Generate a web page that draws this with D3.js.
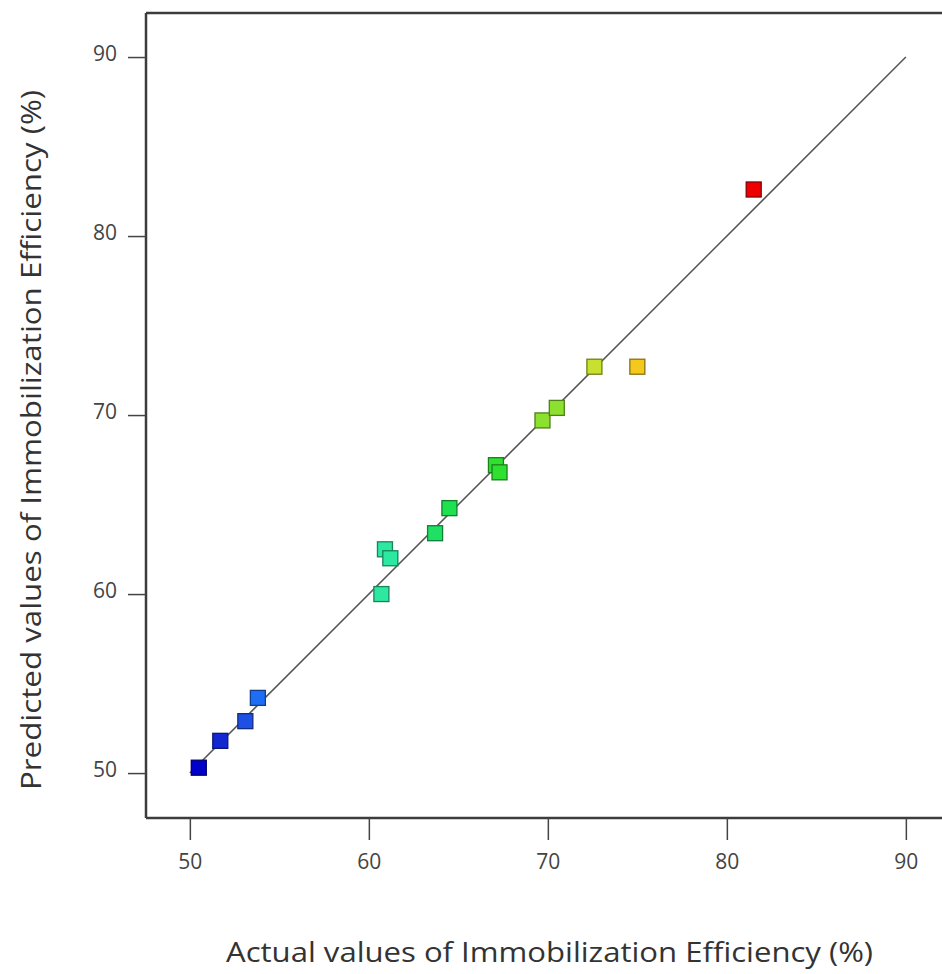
<!DOCTYPE html>
<html><head><meta charset="utf-8">
<script src="https://cdn.jsdelivr.net/npm/d3@7"></script>
<style>body{margin:0;background:#fff;}svg{display:block;}</style>
</head><body>
<svg id="c" width="942" height="974"></svg>
<script>
const actual    = [50.5, 51.7, 53.1, 53.8, 60.7, 60.9, 61.2, 63.7, 64.5, 67.1, 67.3, 69.7, 70.5, 72.6, 75.0, 81.5];
const predicted = [50.3, 51.8, 52.9, 54.2, 60.0, 62.5, 62.0, 63.4, 64.8, 67.2, 66.8, 69.7, 70.4, 72.7, 72.7, 82.6];
const pointColors = ["#0000c8","#1428d2","#1e50e6","#1e6ef5","#2de8a0","#2de8a0","#2de8a0","#1ee164","#1ee150","#30e030","#30e030","#8ce030","#8ce030","#c8e030","#f5c81e","#ee0000"];
const tickValues = [50, 60, 70, 80, 90];
const xTitle = "Actual values of Immobilization Efficiency (%)";
const yTitle = "Predicted values of Immobilization Efficiency (%)";

(function () {
const svg = d3.select("#c");
const mLeft = 146, mTop = 13, mBottom = 818;
const x = d3.scaleLinear().domain([47.55, 92.55]).range([mLeft, mLeft + 45 * 17.9]);
const y = d3.scaleLinear().domain([47.49, 92.46]).range([mBottom, mTop]);

// frame
const frame = svg.append("g").attr("stroke", "#3c3c3c").attr("stroke-width", 2.5).attr("fill", "none");
frame.append("line").attr("x1", mLeft).attr("x2", 960).attr("y1", mTop).attr("y2", mTop);
frame.append("line").attr("x1", mLeft).attr("x2", mLeft).attr("y1", mTop).attr("y2", mBottom);
frame.append("line").attr("x1", mLeft).attr("x2", 960).attr("y1", mBottom).attr("y2", mBottom);

// axes
const xAxis = svg.append("g").attr("transform", `translate(0,${mBottom})`)
  .call(d3.axisBottom(x).tickValues(tickValues).tickSize(22).tickPadding(14));
const yAxis = svg.append("g").attr("transform", `translate(${mLeft},0)`)
  .call(d3.axisLeft(y).tickValues(tickValues).tickSize(18).tickPadding(11));
[xAxis, yAxis].forEach(a => {
  a.select(".domain").remove();
  a.selectAll(".tick line").attr("stroke", "#444").attr("stroke-width", 1.5);
  a.selectAll(".tick text").attr("fill", "#444").attr("font-family", "'Open Sans', sans-serif").attr("font-size", 21);
});
yAxis.selectAll(".tick text").attr("dy", "0.15em");

// 1:1 line
svg.append("line")
  .attr("x1", x(50)).attr("y1", y(50)).attr("x2", x(90)).attr("y2", y(90))
  .attr("stroke", "#555").attr("stroke-width", 1.5);

// points
const s = 15;
svg.append("g").selectAll("rect").data(actual.map((a, i) => ({a, p: predicted[i], c: pointColors[i]})))
  .join("rect")
  .attr("x", d => x(d.a) - s / 2).attr("y", d => y(d.p) - s / 2)
  .attr("width", s).attr("height", s)
  .attr("fill", d => d.c)
  .attr("stroke", d => d3.color(d.c).darker(1.6))
  .attr("stroke-width", 1.3);

// titles
svg.append("text").attr("x", 549.5).attr("y", 962).attr("text-anchor", "middle")
  .attr("font-family", "'Open Sans', sans-serif").attr("font-size", 28).attr("fill", "#333")
  .attr("textLength", 647).attr("lengthAdjust", "spacingAndGlyphs")
  .text(xTitle);
svg.append("text").attr("transform", "translate(41,440) rotate(-90)").attr("text-anchor", "middle")
  .attr("font-family", "'Open Sans', sans-serif").attr("font-size", 28).attr("fill", "#333")
  .attr("textLength", 700).attr("lengthAdjust", "spacingAndGlyphs")
  .text(yTitle);
})();
</script>
</body></html>
